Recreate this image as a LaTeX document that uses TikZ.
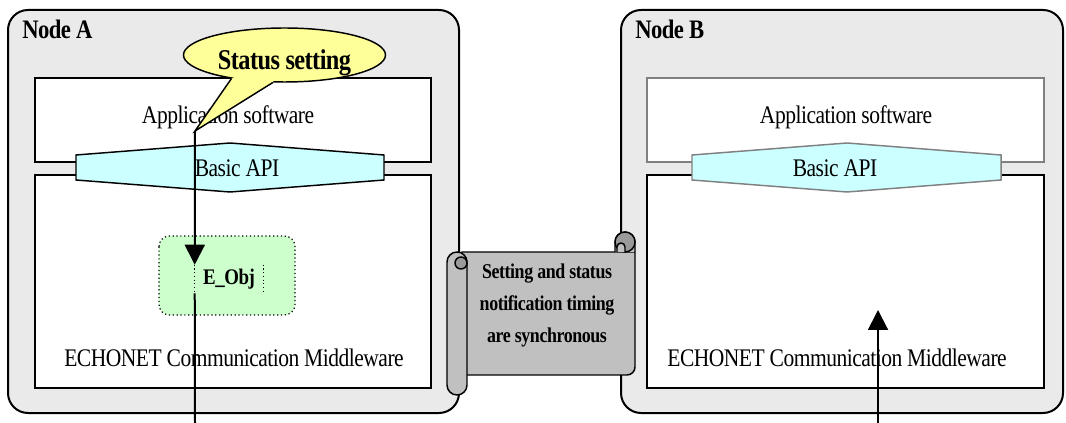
\documentclass[tikz,border=0pt]{standalone}
\usepackage{fontspec}
\setmainfont{Liberation Serif}[FakeStretch=0.85, LetterSpace=-2]
\usetikzlibrary{shapes.geometric,arrows.meta}
\definecolor{nodegray}{HTML}{EAEAEA}
\definecolor{apicyan}{HTML}{CCFFFF}
\definecolor{objgreen}{HTML}{CCFFCC}
\definecolor{noteyellow}{HTML}{FFFF99}
\definecolor{scrollgray}{HTML}{C0C0C0}
\definecolor{curlgray}{HTML}{9A9A9A}
\tikzset{
	nodebox/.style={draw=black, line width=1.5pt, fill=nodegray, rounded corners=15pt},
	layer/.style={draw=black, line width=1.1pt, fill=white},
	apibox/.style={draw=black, line width=1.1pt, fill=apicyan},
	objbox/.style={draw=black, line width=0.9pt, dotted, fill=objgreen, rounded corners=8pt},
	txt/.style={font=\fontsize{19}{22}\selectfont, inner sep=0pt},
	lbl/.style={font=\fontsize{20}{23}\selectfont\bfseries, inner sep=0pt, anchor=west},
	scroll/.style={draw=black, line width=1.1pt, fill=scrollgray},
	flow/.style={line width=1.5pt, -{Triangle[length=15pt,width=15pt]}},
	wire/.style={line width=1.5pt}
}
\begin{document}
\begin{tikzpicture}[x=0.75pt, y=-0.75pt]
	\useasboundingbox (0,0) rectangle (1066,423);

	% Node A
	\draw[nodebox] (8,10) rectangle (459,413);
	\draw[layer] (35,78) rectangle (431,162);
	\draw[layer] (35,175) rectangle (431,388);
	\draw[apibox] (76,155) -- (230,143) -- (384,155) -- (384,180) -- (230,192) -- (76,180) -- cycle;
	\node[lbl] (labelA) at (22,29) {Node A};
	\node[txt] (appA) at (228,117) {Application software};
	\node[txt] (apiA) at (237,168) {Basic API};
	\node[txt] (mwA) at (234,358) {ECHONET Communication Middleware};

	\draw[objbox] (159,236) rectangle (295,315);
	\node[inner sep=0pt, minimum width=51pt, minimum height=21pt,
		font=\fontsize{16.7}{19}\selectfont\bfseries] (eobj) at (229,279) {E\_Obj};
	\draw[dotted, line width=0.8pt] (eobj.north west) -- (eobj.south west);
	\draw[dotted, line width=0.8pt] (eobj.north east) -- (eobj.south east);

	% speech bubble
	\coordinate (tipA) at (195,131);
	\node[ellipse, draw=black, line width=1.1pt, fill=noteyellow,
		minimum width=151.5pt, minimum height=40.5pt, inner sep=0pt] (bubble) at (284.5,55) {};
	\fill[noteyellow] (bubble.204) -- (tipA) -- (bubble.247) -- (bubble.center) -- cycle;
	\draw[line width=1.1pt, line join=miter] (bubble.204) -- (tipA) -- (bubble.247);
	\node[inner sep=0pt, font=\fontsize{21.5}{24}\selectfont\bfseries,
		text height=21.5pt, text depth=0pt] (status) at (bubble.center) {Status setting};

	\coordinate (outA) at (195,423);
	\draw[flow] (tipA) -- (eobj.north west);
	\draw[wire] (eobj.south west) -- (outA);

	% Node B
	\draw[nodebox] (621,10) rectangle (1063,413);
	\draw[layer, draw=gray] (647,78) rectangle (1044,162);
	\draw[layer] (647,175) rectangle (1044,388);
	\draw[apibox, draw=gray] (692,155) -- (847,143) -- (1001,155) -- (1001,180) -- (847,192) -- (692,180) -- cycle;
	\node[lbl] (labelB) at (635,29) {Node B};
	\node[txt] (appB) at (846,117) {Application software};
	\node[txt] (apiB) at (835,168) {Basic API};
	\node[txt] (mwB) at (837,358) {ECHONET Communication Middleware};

	\coordinate (inB) at (878,423);
	\coordinate (hitB) at (878,310);
	\draw[flow] (inB) -- (hitB);

	% scroll between the nodes
	\draw[scroll] (462,252) -- (635,252) -- (635,367) arc[start angle=0, end angle=90, radius=8] -- (462,375) -- cycle;
	\draw[scroll] (615,252) -- (615,242) arc[start angle=180, end angle=360, radius=10] -- (635,252);
	\draw[scroll, fill=curlgray] (625,242) circle[radius=10];
	\draw[scroll] (617,252) -- (617,247) arc[start angle=180, end angle=360, radius=4] -- (625,252);
	\draw[scroll] (447,262) arc[start angle=180, end angle=360, radius=10] -- (467,385) arc[start angle=0, end angle=180, radius=10] -- cycle;
	\draw[scroll, fill=curlgray] (461,263) circle[radius=6];
	\node[inner sep=0pt, align=center, font=\fontsize{15.8}{24}\selectfont\bfseries] (note) at (547,305)
		{Setting and status\\notification timing\\are synchronous};
\end{tikzpicture}
\end{document}
